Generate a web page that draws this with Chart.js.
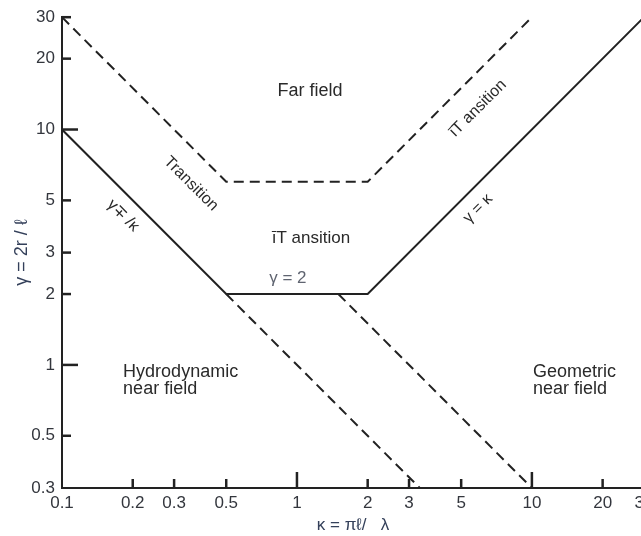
<!DOCTYPE html>
<html>
<head>
<meta charset="utf-8">
<script src="https://cdn.jsdelivr.net/npm/chart.js@4.4.1/dist/chart.umd.min.js"></script>
<style>
html,body{margin:0;padding:0;background:#fff;overflow:hidden;width:641px;height:536px}
canvas{display:block}
</style>
</head>
<body>
<canvas id="c" width="680" height="536" style="width:680px;height:536px"></canvas>
<script>
// ---- tick labels ----
const xTickValues = [0.1, 0.2, 0.3, 0.5, 1, 2, 3, 5, 10, 20, 30];
const yTickValues = [0.3, 0.5, 1, 2, 3, 5, 10, 20, 30];
const majorTickValues = [1, 10];

// ---- boundary lines (kappa, gamma) ----
// solid boundary: gamma = 1/kappa, gamma = 2, gamma = kappa
const boundaryKappa = [0.1, 0.5, 2, 30];
const boundaryGamma = [10, 2, 2, 30];
// dashed far-field boundary: gamma = 3/kappa, gamma = 6, gamma = 3*kappa
const farKappa = [0.1, 0.5, 2, 10];
const farGamma = [30, 6, 6, 30];
// dashed continuation of gamma = 1/kappa
const hydroExtKappa = [0.5, 3.333];
const hydroExtGamma = [2, 0.3];
// dashed continuation of gamma = 3/kappa
const geomExtKappa = [1.5, 10];
const geomExtGamma = [2, 0.3];

// ---- region labels ----
const labelTexts  = ['Far field', 'Transition', 'γ∓ /κ', 'īT ansition', 'γ = 2', 'īT ansition', 'γ = κ'];
const labelKappa  = [1.136, 0.354, 0.182, 1.147, 0.915, 5.89, 5.89];
const labelGamma  = [14.6, 5.88, 4.31, 3.45, 2.34, 12.3, 4.62];
const labelAngle  = [0, 45, 45, 0, 0, -45, -45];
const labelSize   = [18, 16, 16, 17, 17, 16, 16];
const blockTexts  = [['Hydrodynamic', 'near field'], ['Geometric', 'near field']];
const blockKappa  = [0.182, 10.1];
const blockGamma  = [0.933, 0.933];

const toPts = (xs, ys) => xs.map((v, i) => ({x: v, y: ys[i]}));
const FONT = "'Liberation Sans', Arial, Helvetica, sans-serif";
const INK = '#222222';

const decor = {
  id: 'decor',
  afterDraw(chart) {
    const {ctx, chartArea, scales: {x, y}} = chart;
    ctx.save();
    ctx.strokeStyle = INK;
    ctx.lineWidth = 2.5;
    // inward tick marks
    xTickValues.slice(1).forEach(v => {
      const px = x.getPixelForValue(v);
      const len = majorTickValues.includes(v) ? 16 : 9;
      ctx.beginPath();
      ctx.moveTo(px, chartArea.bottom);
      ctx.lineTo(px, chartArea.bottom - len);
      ctx.stroke();
    });
    yTickValues.slice(1).forEach(v => {
      const py = y.getPixelForValue(v);
      const len = majorTickValues.includes(v) ? 16 : 9;
      ctx.beginPath();
      ctx.moveTo(chartArea.left, py);
      ctx.lineTo(chartArea.left + len, py);
      ctx.stroke();
    });
    // region labels
    ctx.textAlign = 'center';
    ctx.textBaseline = 'middle';
    labelTexts.forEach((t, i) => {
      const px = x.getPixelForValue(labelKappa[i]);
      const py = y.getPixelForValue(labelGamma[i]);
      ctx.save();
      ctx.translate(px, py);
      ctx.rotate(labelAngle[i] * Math.PI / 180);
      ctx.fillStyle = t === 'γ = 2' ? '#5f6470' : '#2a2a2a';
      ctx.font = labelSize[i] + 'px ' + FONT;
      ctx.fillText(t, 0, 0);
      ctx.restore();
    });
    ctx.textAlign = 'left';
    ctx.font = '18px ' + FONT;
    ctx.fillStyle = '#2a2a2a';
    blockTexts.forEach((lines, i) => {
      const px = x.getPixelForValue(blockKappa[i]);
      const py = y.getPixelForValue(blockGamma[i]);
      lines.forEach((t, j) => ctx.fillText(t, px, py + j * 17));
    });
    ctx.restore();
  }
};

const lineStyle = {borderColor: INK, borderWidth: 2, pointRadius: 0, fill: false, tension: 0, showLine: true};

new Chart(document.getElementById('c'), {
  type: 'scatter',
  data: {
    datasets: [
      Object.assign({label: 'boundary', data: toPts(boundaryKappa, boundaryGamma)}, lineStyle),
      Object.assign({label: 'far field', data: toPts(farKappa, farGamma), borderDash: [10, 6]}, lineStyle),
      Object.assign({label: 'hydro ext', data: toPts(hydroExtKappa, hydroExtGamma), borderDash: [10, 6]}, lineStyle),
      Object.assign({label: 'geom ext', data: toPts(geomExtKappa, geomExtGamma), borderDash: [10, 6]}, lineStyle)
    ]
  },
  options: {
    responsive: false,
    animation: false,
    devicePixelRatio: 1,
    layout: {padding: {top: 13, right: 36, bottom: 0, left: 0}},
    plugins: {legend: {display: false}, tooltip: {enabled: false}},
    scales: {
      x: {
        type: 'logarithmic',
        position: 'bottom',
        min: 0.1, max: 30,
        afterBuildTicks: s => { s.ticks = xTickValues.map(v => ({value: v})); },
        afterFit: s => { s.height = 48; },
        ticks: {
          autoSkip: false, maxRotation: 0, padding: 5,
          color: '#33363d', font: {family: FONT, size: 17},
          callback: v => String(v)
        },
        grid: {display: true, drawOnChartArea: false, drawTicks: false},
        border: {display: true, color: INK, width: 2},
        title: {display: true, text: 'κ = πℓ/   λ', color: '#34405a',
                font: {family: FONT, size: 17}, padding: {top: 0, bottom: 0}}
      },
      y: {
        type: 'logarithmic',
        position: 'left',
        min: 0.3, max: 30,
        afterBuildTicks: s => { s.ticks = yTickValues.map(v => ({value: v})); },
        afterFit: s => { s.width = 62; },
        ticks: {
          autoSkip: false, padding: 7,
          color: '#33363d', font: {family: FONT, size: 17},
          callback: v => String(v)
        },
        grid: {display: true, drawOnChartArea: false, drawTicks: false},
        border: {display: true, color: INK, width: 2},
        title: {display: true, text: 'γ = 2r / ℓ', color: '#34405a',
                font: {family: FONT, size: 18}, padding: {top: 11, bottom: 0}}
      }
    }
  },
  plugins: [decor]
});
</script>
</body>
</html>
